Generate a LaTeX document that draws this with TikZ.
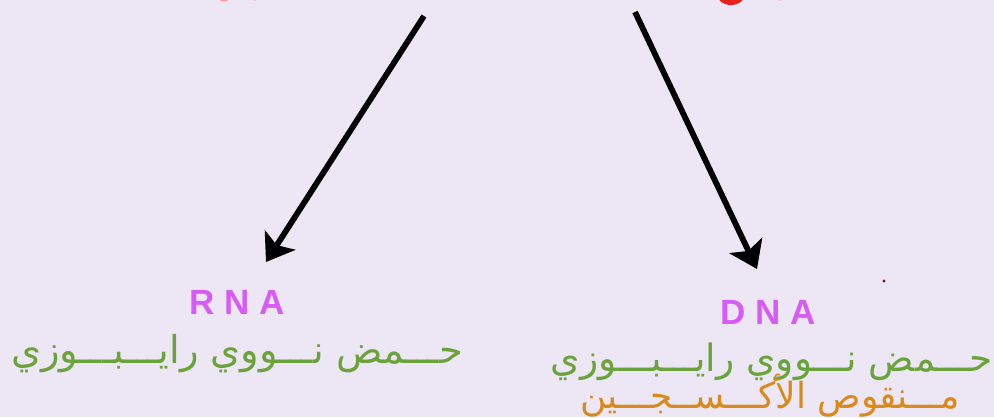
\documentclass[tikz,border=0pt]{standalone}
\usepackage{fontspec}
\usetikzlibrary{arrows.meta,positioning}
\TeXXeTstate=1
\setsansfont{Liberation Sans}
\newfontfamily\arabicfont[Script=Arabic]{DejaVu Sans}
\definecolor{bgcol}{RGB}{237,230,245}
\definecolor{magenta1}{RGB}{214,92,245}
\definecolor{green1}{RGB}{106,163,58}
\definecolor{orange1}{RGB}{217,138,26}
\definecolor{red1}{RGB}{232,32,30}
\definecolor{dotcol}{RGB}{110,20,20}

\tikzset{
    acid/.style={font=\sffamily\bfseries\fontsize{17.5}{20}\selectfont, text=magenta1, inner sep=0pt},
    arabic/.style={font=\arabicfont\fontsize{19.2}{22}\selectfont, inner sep=0pt},
    bigarrow/.style={-{Stealth[length=13pt, width=18pt, inset=3pt]}, line width=2.9pt, black}
}

\begin{document}
\begin{tikzpicture}[x=0.5pt, y=-0.5pt]
    \fill[bgcol] (0,0) rectangle (994,417);
    \useasboundingbox (0,0) rectangle (994,417);

    % cut-off red marks at the top edge
    \fill[red1!45] (224,-3) ellipse [x radius=6, y radius=4.5];
    \fill[red1!30] (255,-3) ellipse [x radius=4, y radius=3.8];
    \fill[red1] (731,-8) ellipse [x radius=15, y radius=13];
    \fill[red1!30] (780,-3) ellipse [x radius=5, y radius=3.8];

    \coordinate (src1) at (424,16);
    \coordinate (src2) at (635,12);
    \coordinate (tip1) at (266,262);
    \coordinate (tip2) at (757,269);

    \node[acid] (rna) at (237,302) {R N A};
    \node[arabic, text=green1] (rnaname) at (237,354) {\beginR حـــمض نـــووي رايـــبـــوزي\endR};

    \node[acid] (dna) at (768,312) {D N A};
    \node[arabic, text=green1, font=\arabicfont\fontsize{18.8}{22}\selectfont] (dnaname) at (772,362) {\beginR حـــمض نـــووي رايـــبـــوزي\endR};
    \node[arabic, text=orange1, font=\arabicfont\fontsize{18}{20}\selectfont] (dnaname2) at (770,396) {\beginR مـــنقوص الأكـــســجـــين\endR};

    \fill[dotcol] (884,281) circle (1.6);

    \draw[bigarrow] (src1) -- (tip1);
    \draw[bigarrow] (src2) -- (tip2);
\end{tikzpicture}
\end{document}
